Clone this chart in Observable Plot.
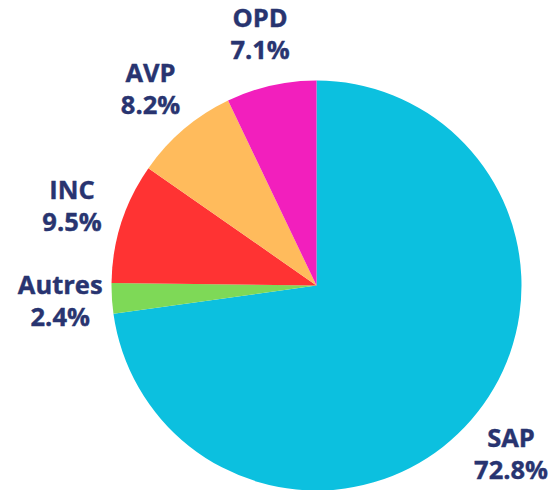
<!DOCTYPE html>
<html><head><meta charset="utf-8">
<script src="https://cdn.jsdelivr.net/npm/d3@7"></script>
<script src="https://cdn.jsdelivr.net/npm/@observablehq/plot@0.6"></script>
<style>body{margin:0;background:#fff}</style>
</head><body><div id="chart"></div>
<script>
const categories = ["SAP", "Autres", "INC", "AVP", "OPD"];
const shares = [72.8, 2.4, 9.5, 8.2, 7.1];
const colors = ["#0cc0df", "#7ed957", "#ff3333", "#ffbb5c", "#f21fbd"];

const W = 557, H = 490, R = 205, CX = 316.5, CY = 285.5, LABEL_K = 1.255;

const rows = categories.map((name, i) => ({name, value: shares[i], color: colors[i]}));
const arcsData = d3.pie().sort(null).value(d => d.value)(rows);
const labels = arcsData.map(a => {
  const mid = (a.startAngle + a.endAngle) / 2;
  return {name: a.data.name, value: a.data.value, x: LABEL_K * Math.sin(mid), y: LABEL_K * Math.cos(mid)};
});

function slices(index, scales) {
  const cx = scales.x(0), cy = scales.y(0), r = scales.x(1) - scales.x(0);
  const arc = d3.arc().innerRadius(0).outerRadius(r);
  const g = d3.create("svg:g").attr("transform", `translate(${cx},${cy})`);
  g.selectAll("path").data(arcsData).join("path")
    .attr("d", arc)
    .attr("fill", d => scales.color ? scales.color(d.data.name) : d.data.color);
  return g.node();
}

const textStyle = {
  x: "x", y: "y",
  fontSize: 25.5, fontWeight: 700, fontFamily: "Open Sans",
  fill: "#283470", stroke: "#283470", strokeWidth: 0.4,
  lineAnchor: "middle"
};

const chart = Plot.plot({
  width: W, height: H,
  margin: 0,
  x: {domain: [-CX / R, (W - CX) / R], axis: null},
  y: {domain: [-(H - CY) / R, CY / R], axis: null},
  color: {domain: categories, range: colors},
  style: {background: "#fff"},
  marks: [
    Plot.dot(rows, {x: () => 0, y: () => 0, fill: "name", r: 0}),
    slices,
    Plot.text(labels, {...textStyle, text: "name", dy: -16}),
    Plot.text(labels, {...textStyle, text: d => `${d.value.toFixed(1)}%`, dy: 16})
  ]
});
document.getElementById("chart").appendChild(chart);
</script>
</body></html>
